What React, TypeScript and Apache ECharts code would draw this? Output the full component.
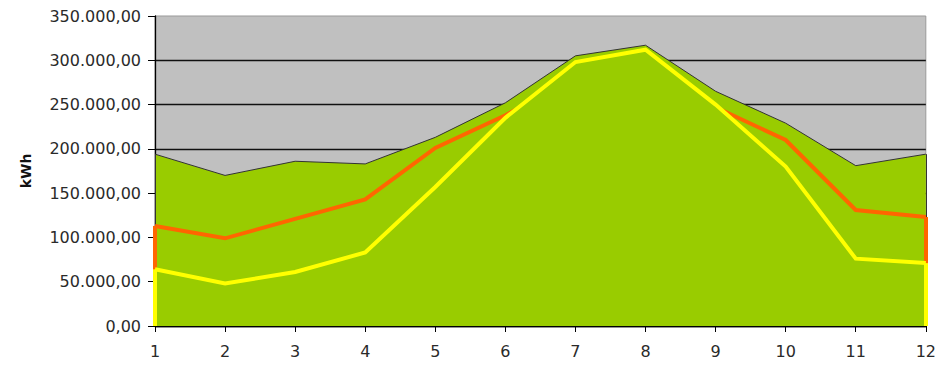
import React, { useEffect, useRef } from "react";
import * as echarts from "echarts";

// Months 1..12
const months = ["1", "2", "3", "4", "5", "6", "7", "8", "9", "10", "11", "12"];

// Monthly energy in kWh
const totalKWh = [194000, 170000, 186000, 183000, 213000, 252000, 305000, 317000, 265000, 229000, 181000, 194000];
const orangeKWh = [113000, 99000, 121000, 143000, 201000, 238000, 279000, 280000, 247000, 210000, 131000, 123000];
const yellowKWh = [64000, 48000, 61000, 83000, 157000, 235000, 298000, 312000, 250000, 180000, 76000, 71000];

const Y_MAX = 350000;
const Y_STEP = 50000;

const GREEN = "#99CC00";
const FONT = "DejaVu Sans";

function formatKWh(v: number): string {
  const int = Math.round(v).toString().replace(/\B(?=(\d{3})+(?!\d))/g, ".");
  return int + ",00";
}

// Vertical edges at the first and last month, like a bordered area
function edgeLines(values: number[]) {
  const last = months.length - 1;
  return [
    [{ coord: [months[0], values[0]] }, { coord: [months[0], 0] }],
    [{ coord: [months[last], values[last]] }, { coord: [months[last], 0] }],
  ];
}

function areaSeries(name: string, values: number[], color: string, width: number, z: number) {
  return {
    name,
    type: "line",
    data: values,
    z,
    showSymbol: false,
    silent: true,
    lineStyle: { color, width, join: "miter" },
    areaStyle: { color: GREEN, opacity: 1 },
    markLine: {
      silent: true,
      z: z + 0.5,
      symbol: ["none", "none"],
      label: { show: false },
      emphasis: { disabled: true },
      lineStyle: { color, width, type: "solid" },
      data: edgeLines(values),
    },
  };
}

export default function App() {
  const ref = useRef<HTMLDivElement>(null);

  useEffect(() => {
    if (!ref.current) return;
    const chart = echarts.init(ref.current, undefined, { renderer: "svg" });
    chart.setOption({
      animation: false,
      grid: {
        left: 155,
        right: 11,
        top: 16,
        bottom: 42,
        show: true,
        backgroundColor: "#C0C0C0",
        borderColor: "#999999",
        borderWidth: 1,
      },
      xAxis: {
        type: "category",
        data: months,
        boundaryGap: false,
        axisLine: { lineStyle: { color: "#000", width: 1.3 } },
        axisTick: { show: true, alignWithLabel: true, length: 6, lineStyle: { color: "#000" } },
        axisLabel: { color: "#2a2a2a", fontFamily: FONT, fontSize: 16, margin: 17 },
        splitLine: { show: false },
      },
      yAxis: {
        type: "value",
        min: 0,
        max: Y_MAX,
        interval: Y_STEP,
        name: "kWh",
        nameLocation: "middle",
        nameRotate: 90,
        nameGap: 122,
        nameTextStyle: { color: "#111", fontFamily: FONT, fontSize: 14, fontWeight: "bold" },
        axisLine: { show: true, lineStyle: { color: "#000", width: 1.3 } },
        axisTick: { show: true, length: 7, lineStyle: { color: "#000" } },
        axisLabel: {
          color: "#2a2a2a",
          fontFamily: FONT,
          fontSize: 16,
          margin: 14,
          formatter: (v: number) => formatKWh(v),
        },
        splitLine: { show: true, showMaxLine: false, lineStyle: { color: "#111", width: 1.3 } },
      },
      series: [
        areaSeries("Gesamt", totalKWh, "#333333", 1, 2),
        areaSeries("Orange", orangeKWh, "#FF6600", 4, 3),
        areaSeries("Gelb", yellowKWh, "#FFFF00", 4, 4),
      ],
    });
    return () => chart.dispose();
  }, []);

  return (
    <div
      ref={ref}
      style={{ position: "fixed", left: 0, top: 0, width: 939, height: 368, background: "#fff" }}
    />
  );
}
